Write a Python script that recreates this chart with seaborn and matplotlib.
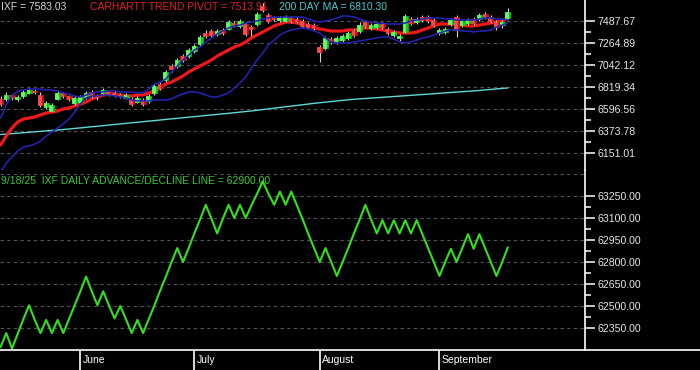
import numpy as np
import pandas as pd
import matplotlib.pyplot as plt
import matplotlib.transforms as mtransforms
from matplotlib.lines import Line2D
import seaborn as sns

sns.set_theme(style="dark")
plt.rcParams["font.family"] = ["Liberation Sans", "DejaVu Sans"]

# -------------------- DATA --------------------
# 90 trading days, mid May -> 9/18/25
opens = [6698, 6698, 6738, 6698, 6728, 6759, 6779, 6738, 6617, 6576,
         6698, 6759, 6728, 6657, 6667, 6718, 6769, 6728, 6759, 6779,
         6759, 6738, 6708, 6698, 6667, 6688, 6678, 6759, 6850, 6890,
         7032, 7032, 7133, 7133, 7184, 7255, 7366, 7386, 7356, 7396,
         7407, 7467, 7437, 7457, 7427, 7457, 7640, 7548, 7518, 7498,
         7488, 7518, 7508, 7488, 7457, 7447, 7224, 7214, 7305, 7285,
         7295, 7316, 7386, 7386, 7478, 7417, 7427, 7457, 7407, 7346,
         7316, 7376, 7508, 7478, 7528, 7528, 7498, 7366, 7376, 7457,
         7528, 7447, 7467, 7508, 7508, 7559, 7528, 7478, 7447, 7518]
highs = [6728, 6769, 6748, 6738, 6789, 6809, 6799, 6769, 6678, 6657,
         6779, 6769, 6738, 6728, 6738, 6779, 6789, 6748, 6809, 6789,
         6779, 6759, 6759, 6718, 6728, 6708, 6748, 6850, 6870, 6991,
         7052, 7113, 7153, 7214, 7255, 7346, 7396, 7407, 7407, 7417,
         7498, 7488, 7508, 7478, 7447, 7579, 7670, 7569, 7538, 7538,
         7548, 7538, 7528, 7508, 7478, 7467, 7245, 7336, 7326, 7336,
         7356, 7386, 7407, 7478, 7498, 7467, 7478, 7478, 7427, 7397,
         7356, 7559, 7528, 7528, 7548, 7548, 7518, 7417, 7427, 7518,
         7548, 7508, 7518, 7528, 7569, 7579, 7548, 7498, 7498, 7619]
lows = [6627, 6678, 6688, 6678, 6708, 6748, 6748, 6617, 6597, 6566,
        6688, 6708, 6678, 6637, 6647, 6698, 6708, 6688, 6738, 6728,
        6718, 6708, 6698, 6627, 6657, 6627, 6657, 6738, 6789, 6870,
        6971, 7012, 7072, 7113, 7164, 7234, 7315, 7326, 7336, 7346,
        7396, 7427, 7417, 7336, 7336, 7437, 7579, 7467, 7488, 7478,
        7478, 7467, 7467, 7417, 7407, 7397, 7072, 7194, 7255, 7255,
        7275, 7295, 7326, 7366, 7417, 7397, 7407, 7407, 7346, 7326,
        7285, 7366, 7447, 7457, 7478, 7467, 7427, 7346, 7356, 7437,
        7326, 7427, 7447, 7447, 7488, 7508, 7467, 7397, 7417, 7508]
closes = [6647, 6738, 6708, 6718, 6769, 6789, 6769, 6637, 6657, 6637,
          6759, 6728, 6698, 6708, 6718, 6759, 6728, 6718, 6789, 6748,
          6738, 6728, 6738, 6647, 6708, 6647, 6728, 6829, 6809, 6971,
          7002, 7093, 7093, 7194, 7234, 7326, 7336, 7346, 7386, 7366,
          7478, 7447, 7488, 7356, 7407, 7559, 7599, 7488, 7508, 7518,
          7528, 7488, 7488, 7437, 7427, 7417, 7174, 7316, 7285, 7316,
          7336, 7366, 7346, 7447, 7437, 7447, 7457, 7427, 7366, 7376,
          7336, 7538, 7467, 7508, 7498, 7488, 7447, 7397, 7407, 7498,
          7397, 7488, 7498, 7467, 7548, 7528, 7488, 7427, 7478, 7583.03]

trend_pivot = [6232, 6323, 6404, 6465, 6495, 6505, 6516, 6536, 6556, 6566,
               6576, 6597, 6607, 6627, 6647, 6667, 6698, 6718, 6738, 6749,
               6749, 6738, 6728, 6728, 6738, 6738, 6759, 6779, 6809, 6850,
               6870, 6900, 6931, 6971, 7002, 7032, 7062, 7093, 7133, 7164,
               7194, 7224, 7245, 7275, 7316, 7346, 7376, 7407, 7437, 7457,
               7477, 7477, 7467, 7457, 7437, 7417, 7407, 7397, 7386, 7386,
               7386, 7397, 7397, 7407, 7417, 7417, 7407, 7397, 7386, 7376,
               7366, 7366, 7366, 7376, 7397, 7417, 7437, 7457, 7457, 7457,
               7457, 7447, 7437, 7437, 7447, 7457, 7467, 7477, 7488, 7513.91]
band_upper = [6505, 6637, 6728, 6779, 6789, 6799, 6799, 6799, 6789, 6789,
              6779, 6759, 6749, 6728, 6718, 6738, 6759, 6769, 6769, 6779,
              6779, 6769, 6769, 6769, 6759, 6759, 6799, 6850, 6870, 6900,
              6971, 7032, 7093, 7143, 7194, 7224, 7275, 7316, 7356, 7386,
              7417, 7437, 7447, 7467, 7477, 7488, 7508, 7518, 7528, 7528,
              7528, 7528, 7528, 7528, 7508, 7488, 7477, 7488, 7498, 7518,
              7538, 7538, 7528, 7508, 7488, 7477, 7467, 7467, 7457, 7457,
              7457, 7467, 7488, 7498, 7508, 7518, 7518, 7518, 7508, 7508,
              7498, 7498, 7498, 7498, 7508, 7518, 7518, 7508, 7508, 7498]
band_lower = [5959, 6050, 6111, 6171, 6212, 6222, 6242, 6273, 6323, 6364,
              6404, 6445, 6495, 6566, 6647, 6708, 6728, 6728, 6738, 6738,
              6728, 6718, 6708, 6688, 6678, 6678, 6678, 6688, 6688, 6688,
              6698, 6728, 6749, 6769, 6769, 6759, 6738, 6718, 6718, 6738,
              6759, 6809, 6860, 6921, 7012, 7093, 7164, 7245, 7295, 7346,
              7376, 7397, 7407, 7417, 7407, 7386, 7366, 7316, 7275, 7265,
              7265, 7265, 7275, 7285, 7295, 7305, 7316, 7326, 7326, 7305,
              7275, 7265, 7275, 7295, 7316, 7326, 7346, 7366, 7386, 7397,
              7397, 7386, 7386, 7376, 7386, 7386, 7397, 7427, 7447, 7467]
ma200 = [6338, 6343, 6347, 6352, 6356, 6361, 6366, 6370, 6375, 6380,
         6384, 6389, 6394, 6400, 6405, 6411, 6417, 6422, 6428, 6434,
         6440, 6445, 6451, 6457, 6462, 6468, 6474, 6479, 6485, 6491,
         6497, 6502, 6508, 6514, 6519, 6525, 6531, 6536, 6542, 6548,
         6553, 6559, 6565, 6571, 6577, 6584, 6591, 6598, 6605, 6612,
         6619, 6626, 6633, 6640, 6647, 6654, 6660, 6666, 6672, 6678,
         6684, 6690, 6695, 6699, 6703, 6707, 6711, 6715, 6719, 6723,
         6727, 6731, 6735, 6739, 6743, 6747, 6751, 6756, 6760, 6764,
         6768, 6772, 6776, 6780, 6784, 6790, 6795, 6800, 6805, 6810.30]
ad_line = [62220, 62315, 62210, 62310, 62410, 62505, 62405, 62315, 62405, 62315,
           62405, 62315, 62410, 62505, 62600, 62700, 62600, 62505, 62600, 62505,
           62415, 62500, 62410, 62315, 62405, 62315, 62410, 62505, 62605, 62700,
           62800, 62895, 62800, 62895, 62995, 63090, 63190, 63095, 62995, 63095,
           63190, 63100, 63190, 63100, 63185, 63265, 63350, 63265, 63190, 63280,
           63190, 63280, 63185, 63090, 62990, 62895, 62800, 62895, 62800, 62705,
           62800, 62895, 62995, 63090, 63190, 63090, 62995, 63085, 62995, 63085,
           62995, 63085, 62995, 63085, 62990, 62895, 62800, 62705, 62800, 62890,
           62800, 62895, 62990, 62890, 62990, 62895, 62800, 62705, 62800, 62900]

month_names = ["June", "July", "August", "September"]
month_start_day = [14, 34, 56, 77]

price_ticks = [7487.67, 7264.89, 7042.12, 6819.34, 6596.56, 6373.78, 6151.01]
ad_ticks = [62350, 62500, 62650, 62800, 62950, 63100, 63250]
ad_grid_extra = [63400]

# -------------------- FRAME --------------------
df = pd.DataFrame({
    "day": np.arange(len(closes)),
    "open": opens, "high": highs, "low": lows, "close": closes,
    "pivot": trend_pivot, "upper": band_upper, "lower": band_lower,
    "ma200": ma200, "ad": ad_line,
})

W, H = 700, 370
PX_PER_DAY = 5.7
fig = plt.figure(figsize=(7, 3.7), dpi=100, facecolor="black")
ax_top = fig.add_axes([0, 1 - 170 / H, 585 / W, 170 / H])
ax_ad = fig.add_axes([0, 20 / H, 585 / W, 180 / H])

GRID = dict(color="#555555", lw=0.8, dashes=(3, 3), zorder=0.3)

for ax in (ax_top, ax_ad):
    ax.set_facecolor("black")
    ax.grid(False)
    for s in ("left", "top", "bottom"):
        ax.spines[s].set_visible(False)
    ax.spines["right"].set_color("white")
    ax.spines["right"].set_linewidth(1.2)
    ax.yaxis.tick_right()
    ax.tick_params(axis="y", which="major", colors="white", length=7, width=1.1,
                   labelsize=7.6, pad=2, labelcolor="#e6e6e6")
    ax.tick_params(axis="y", which="minor", colors="white", length=4, width=1.1)
    ax.tick_params(axis="x", which="both", length=0, labelbottom=False)

# -------------------- TOP PANEL --------------------
sns.lineplot(data=df, x="day", y="ma200", ax=ax_top, color="#5ed8d8", lw=1.0, zorder=1)
sns.lineplot(data=df, x="day", y="pivot", ax=ax_top, color="#f01818", lw=2.3, zorder=2)

# candles: wick, body, lighter left half of body (shaded look)
up = df["close"] >= df["open"]
body_col = np.where(up, "#19c819", "#c81818")
light_col = np.where(up, "#6cf56c", "#f05050")
ax_top.vlines(df["day"], df["low"], df["high"], color="#d4d4d4", lw=0.8, zorder=3)
ax_top.bar(df["day"], df["close"] - df["open"], bottom=df["open"], width=0.9,
           color=body_col, edgecolor=body_col, lw=0.5, zorder=4)
ax_top.bar(df["day"] - 0.2, df["close"] - df["open"], bottom=df["open"], width=0.45,
           color=light_col, edgecolor=light_col, lw=0.5, zorder=4.1)

sns.lineplot(data=df, x="day", y="upper", ax=ax_top, color="#2424b8", lw=1.1, zorder=5)
sns.lineplot(data=df, x="day", y="lower", ax=ax_top, color="#2424b8", lw=1.1, zorder=5)

for v in price_ticks:
    ax_top.axhline(v, **GRID)
ax_top.set_yticks(price_ticks)
ax_top.set_yticklabels([f"{v:.2f}" for v in price_ticks])
ax_top.set_yticks([(a + b) / 2 for a, b in zip(price_ticks[:-1], price_ticks[1:])], minor=True)
ax_top.set_ylim(5978.9, 7700.3)

ax_top.text(1 / 585, 1 - 7 / 170, f"IXF = {closes[-1]:.2f}", transform=ax_top.transAxes,
            color="#d8d8d8", fontsize=7.5, va="center", ha="left", zorder=0.5)
ax_top.text(90 / 585, 1 - 7 / 170, f"CARHARTT TREND PIVOT = {trend_pivot[-1]:.2f}",
            transform=ax_top.transAxes, color="#e02020", fontsize=7.5,
            va="center", ha="left", zorder=0.5)
ax_top.text(279 / 585, 1 - 7 / 170, f"200 DAY MA = {ma200[-1]:.2f}",
            transform=ax_top.transAxes, color="#40cccc", fontsize=7.5,
            va="center", ha="left", zorder=0.5)

# -------------------- A/D PANEL --------------------
sns.lineplot(data=df, x="day", y="ad", ax=ax_ad, color="#33e01e", lw=1.5, zorder=2)

for v in ad_ticks + ad_grid_extra:
    ax_ad.axhline(v, **GRID)
ax_ad.set_yticks(ad_ticks)
ax_ad.set_yticklabels([f"{v:.2f}" for v in ad_ticks])
ax_ad.set_yticks([v + 75 for v in ad_ticks[:-1]], minor=True)
ax_ad.set_ylim(62200, 63427.3)

ax_ad.text(1 / 585, 1 - 11 / 180, f"9/18/25  IXF DAILY ADVANCE/DECLINE LINE = {ad_line[-1]:.2f}",
           transform=ax_ad.transAxes, color="#33cc33", fontsize=7.5,
           va="center", ha="left", zorder=0.5)

for ax in (ax_top, ax_ad):
    ax.set_xlim(-0.1, 585 / PX_PER_DAY - 0.1)
    ax.set_xlabel("")
    ax.set_ylabel("")

# -------------------- MONTH AXIS --------------------
blend = mtransforms.blended_transform_factory(ax_ad.transData, ax_ad.transAxes)
ax_ad.vlines(month_start_day, -20 / 180, 0, transform=blend, color="white",
             lw=1.2, clip_on=False)
for d, name in zip(month_start_day, month_names):
    ax_ad.text(d + 0.45, -10 / 180, name, transform=blend, color="white",
               fontsize=7.5, va="center", ha="left", clip_on=False)
fig.add_artist(Line2D([0, 1], [20 / H, 20 / H], transform=fig.transFigure,
                      color="white", lw=1.2))

fig.savefig("out.png", dpi=100, facecolor="black")
